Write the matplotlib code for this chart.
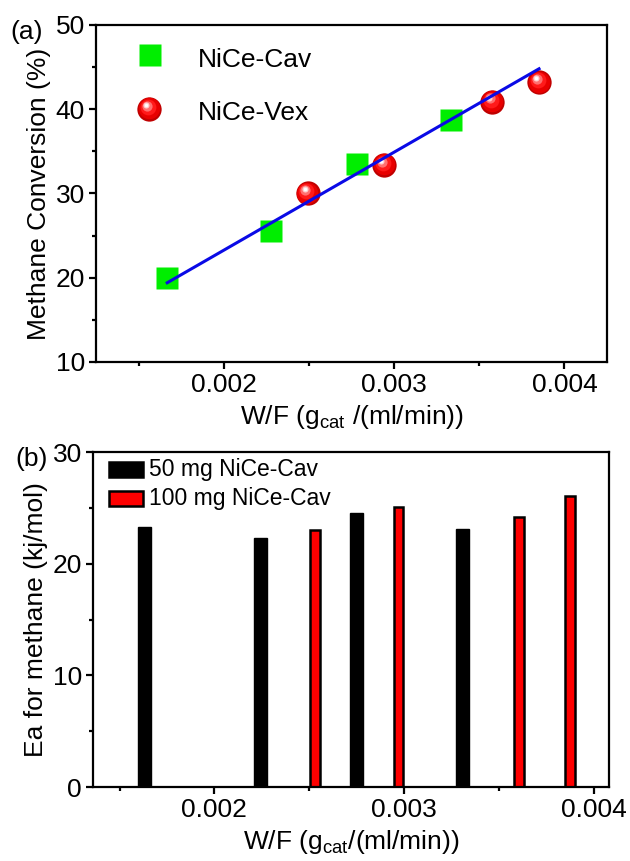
import matplotlib
matplotlib.use("Agg")
import matplotlib.pyplot as plt
from matplotlib.transforms import offset_copy
from matplotlib.patches import Rectangle
from matplotlib.ticker import MultipleLocator

plt.rcParams['font.family'] = ['Liberation Sans', 'DejaVu Sans']
plt.rcParams['mathtext.fontset'] = 'custom'
plt.rcParams['mathtext.rm'] = 'Liberation Sans'
plt.rcParams['mathtext.it'] = 'Liberation Sans:italic'

# (a) methane conversion vs W/F
wf_cav = [0.001668, 0.002276, 0.002781, 0.003334]
conv_cav = [20.0, 25.5, 33.5, 38.7]
wf_vex = [0.002494, 0.002941, 0.003575, 0.003851]
conv_vex = [30.0, 33.4, 40.9, 43.2]
fit_wf = [0.001668, 0.003851]
fit_conv = [19.4, 44.8]

# (b) activation energy at each W/F
wf_50mg = [0.00163, 0.002243, 0.00275, 0.003308]
ea_50mg = [23.3, 22.3, 24.5, 23.1]
wf_100mg = [0.002528, 0.00297, 0.003604, 0.003873]
ea_100mg = [23.0, 25.1, 24.2, 26.1]

FS = 19

fig = plt.figure(figsize=(6.3, 8.61), dpi=100)
ax1 = fig.add_axes([0.1524, 0.5796, 0.8111, 0.3914])
ax2 = fig.add_axes([0.1476, 0.0859, 0.8191, 0.3891])


def sphere(ax, x, y, size, transform, z=3):
    # shaded ball: stacked circles shifted towards the upper left
    layers = [(1.0, '#c00000', 0, 0), (0.88, '#e80000', -0.5, 0.5),
              (0.65, '#ff1a1a', -1.5, 2), (0.42, '#ff7070', -2.5, 3.2),
              (0.25, '#ffd0d0', -3, 4), (0.14, 'white', -3.2, 4.3)]
    for frac, c, dx, dy in layers:
        tr = offset_copy(transform, fig=fig, x=dx, y=dy, units='dots')
        ax.plot(x, y, 'o', ms=size * frac, color=c, mec='none',
                transform=tr, zorder=z, clip_on=False)


def style(ax):
    for s in ax.spines.values():
        s.set_linewidth(1.6)
    ax.tick_params(which='both', direction='out', width=1.6, labelsize=FS,
                   top=False, right=False)
    ax.tick_params(which='major', length=5, pad=3)
    ax.tick_params(which='minor', length=3)
    ax.xaxis.set_major_locator(MultipleLocator(0.001))
    ax.xaxis.set_minor_locator(MultipleLocator(0.0005))
    ax.xaxis.set_major_formatter(lambda v, p: f"{v:.3f}")


# ---- panel (a)
ax1.plot(wf_cav, conv_cav, 's', ms=15.5, color='#00ee00', mec='none', zorder=3)
sphere(ax1, wf_vex, conv_vex, 17.5, ax1.transData)
ax1.plot(fit_wf, fit_conv, '-', color='#0a0ae6', lw=2.2, zorder=4)

ax1.set_xlim(0.00125, 0.00425)
ax1.set_ylim(10, 50)
ax1.yaxis.set_major_locator(MultipleLocator(10))
ax1.yaxis.set_minor_locator(MultipleLocator(5))
style(ax1)
ax1.set_ylabel("Methane Conversion (%)", fontsize=FS, labelpad=3)
ax1.set_xlabel(r"W/F (g$_{\mathrm{cat}}$ /(ml/min))", fontsize=FS, labelpad=4)

# legend entries
ax1.plot(0.1047, 0.911, 's', ms=15.5, color='#00ee00', mec='none',
         transform=ax1.transAxes)
sphere(ax1, 0.1037, 0.7507, 17.5, ax1.transAxes)
ax1.text(0.1996, 0.896, "NiCe-Cav", fontsize=FS, va='center', transform=ax1.transAxes)
ax1.text(0.1996, 0.739, "NiCe-Vex", fontsize=FS, va='center', transform=ax1.transAxes)
fig.text(27 / 630, 1 - 32 / 861, "(a)", fontsize=FS, ha='center', va='center')

# ---- panel (b)
ax2.bar(wf_50mg, ea_50mg, width=0.00007, color='black', edgecolor='black', zorder=2)
ax2.bar(wf_100mg, ea_100mg, width=0.000052, color='#ff0000', edgecolor='black',
        linewidth=1.8, zorder=2)

ax2.set_xlim(0.00136, 0.00408)
ax2.set_ylim(0, 30)
ax2.yaxis.set_major_locator(MultipleLocator(10))
ax2.yaxis.set_minor_locator(MultipleLocator(5))
style(ax2)
ax2.set_ylabel("Ea for methane (kj/mol)", fontsize=FS, labelpad=3)
ax2.set_xlabel(r"W/F (g$_{\mathrm{cat}}$/(ml/min))", fontsize=FS, labelpad=4)

ax2.add_patch(Rectangle((0.031, 0.925), 0.0651, 0.0448, transform=ax2.transAxes,
                        facecolor='black', edgecolor='black', lw=1.8))
ax2.add_patch(Rectangle((0.031, 0.8388), 0.0651, 0.0448, transform=ax2.transAxes,
                        facecolor='#ff0000', edgecolor='black', lw=1.8))
ax2.text(0.1078, 0.948, "50 mg NiCe-Cav", fontsize=16.5, va='center', transform=ax2.transAxes)
ax2.text(0.1078, 0.861, "100 mg NiCe-Cav", fontsize=16.5, va='center', transform=ax2.transAxes)
fig.text(32 / 630, 1 - 459 / 861, "(b)", fontsize=FS, ha='center', va='center')

fig.savefig("out.png", dpi=100)
